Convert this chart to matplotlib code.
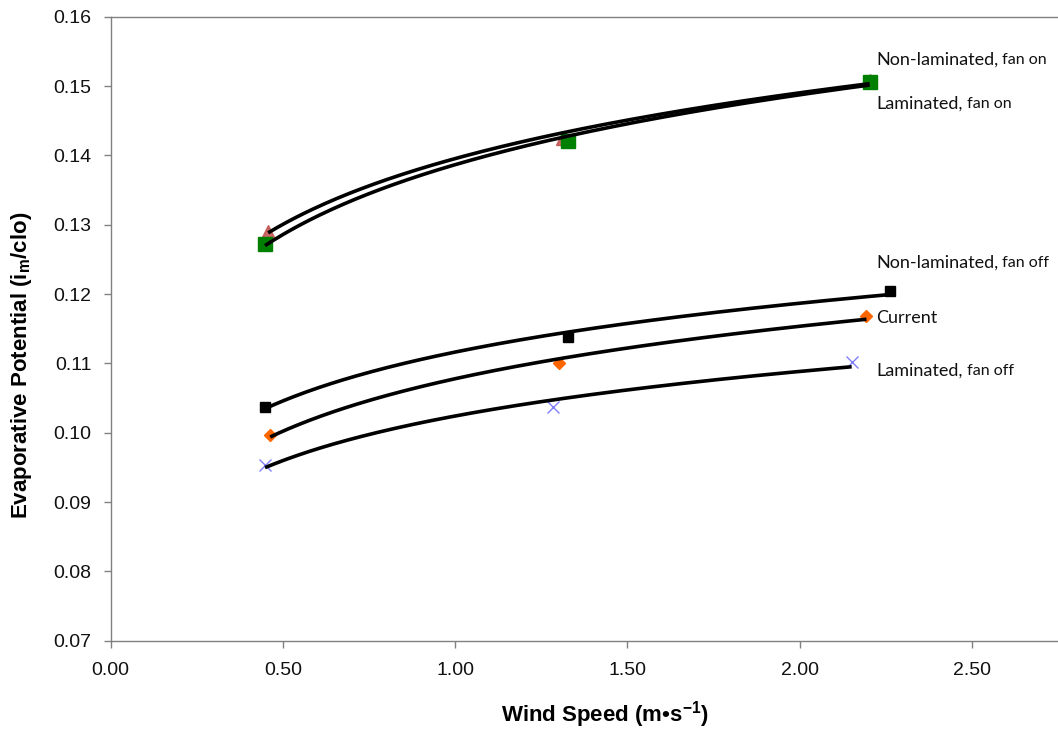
import numpy as np
import matplotlib
matplotlib.use("Agg")
import matplotlib.pyplot as plt

plt.rcParams['mathtext.fontset'] = 'custom'
plt.rcParams['mathtext.bf'] = 'Liberation Sans:bold'
plt.rcParams['mathtext.rm'] = 'Liberation Sans'
plt.rcParams['mathtext.it'] = 'Liberation Sans:italic'

# Data
lam_on_x = [0.448, 1.327, 2.203]
lam_on_y = [0.1272, 0.1421, 0.1506]
nonlam_on_x = [0.457, 1.310, 2.203]
nonlam_on_y = [0.1291, 0.1424, 0.1509]
nonlam_off_x = [0.448, 1.327, 2.262]
nonlam_off_y = [0.1037, 0.1138, 0.1204]
current_x = [0.463, 1.301, 2.194]
current_y = [0.0996, 0.1100, 0.1168]
lam_off_x = [0.448, 1.284, 2.151]
lam_off_y = [0.0953, 0.1037, 0.1102]

labels_main = ["Non-laminated,", "Laminated,", "Non-laminated,", "Current", "Laminated,"]
labels_sub = [" fan on", " fan on", " fan off", "", " fan off"]
label_y = [0.1538, 0.1474, 0.1245, 0.1165, 0.1089]
label_x = 2.222

xticks = [0.0, 0.5, 1.0, 1.5, 2.0, 2.5]
yticks = [0.07, 0.08, 0.09, 0.10, 0.11, 0.12, 0.13, 0.14, 0.15, 0.16]

fig = plt.figure(figsize=(10.58, 7.30), dpi=100)
ax = fig.add_axes([110.7 / 1058, 1 - 640.7 / 730, (1058 - 110.7) / 1058 * 1.0, (640.7 - 16.7) / 730])

series = [
    (nonlam_on_x, nonlam_on_y, dict(marker='^', color='#c0504d', markersize=9, markeredgecolor='#c0504d', alpha=0.85)),
    (lam_on_x, lam_on_y, dict(marker='s', color='#008000', markersize=9.5, markeredgecolor='#008000')),
    (nonlam_off_x, nonlam_off_y, dict(marker='s', color='black', markersize=7.5)),
    (current_x, current_y, dict(marker='D', color='#ff6600', markersize=6)),
    (lam_off_x, lam_off_y, dict(marker='x', color='#8080ff', markersize=9, markeredgewidth=1.0)),
]

for xs, ys, st in series:
    ax.plot(xs, ys, linestyle='none', zorder=3, **st)
    xs_a = np.array(xs)
    ys_a = np.array(ys)
    a, b = np.polyfit(np.log(xs_a), ys_a, 1)
    xx = np.linspace(xs_a.min(), xs_a.max(), 200)
    ax.plot(xx, a * np.log(xx) + b, color='black', linewidth=2.6, zorder=4, solid_capstyle='butt')

ax.set_xlim(0, 2.75)
ax.set_ylim(0.07, 0.16)
ax.set_xticks(xticks)
ax.set_xticklabels([f"{t:.2f}" for t in xticks])
ax.set_yticks(yticks)
ax.set_yticklabels([f"{t:.2f}" for t in yticks])

for lab in ax.get_xticklabels() + ax.get_yticklabels():
    lab.set_fontfamily('Liberation Sans')
    lab.set_fontsize(14)
    lab.set_color('#111111')

ax.tick_params(axis='both', direction='out', length=5, width=1, color='#808080')
ax.tick_params(axis='x', pad=10)
ax.tick_params(axis='y', pad=9)
for s in ['left', 'bottom', 'top']:
    ax.spines[s].set_color('#808080')
    ax.spines[s].set_linewidth(1)
ax.spines['right'].set_visible(False)

fig.text(605 / 1058, 1 - 715 / 730, r'Wind Speed (m•s$^{\mathbf{-1}}$)', ha='center', va='center',
         fontsize=16, fontweight='bold', family='Liberation Sans')
fig.text(22 / 1058, 1 - 365 / 730, r'Evaporative Potential (i$_{\mathbf{m}}$/clo)', ha='center', va='center',
         rotation=90, fontsize=16, fontweight='bold', family='Liberation Sans')

fig.canvas.draw()
renderer = fig.canvas.get_renderer()
for m, s, y in zip(labels_main, labels_sub, label_y):
    t = ax.text(label_x, y, m, fontsize=13, family='Lato', color='#111111', va='center', ha='left')
    if s:
        bb = t.get_window_extent(renderer=renderer)
        x_disp = bb.x1
        y_disp = ax.transData.transform((label_x, y))[1]
        fig.text(x_disp / fig.bbox.width, y_disp / fig.bbox.height, s, fontsize=11.5, family='Lato',
                 color='#111111', va='center', ha='left')

fig.savefig('out.png', dpi=100)
